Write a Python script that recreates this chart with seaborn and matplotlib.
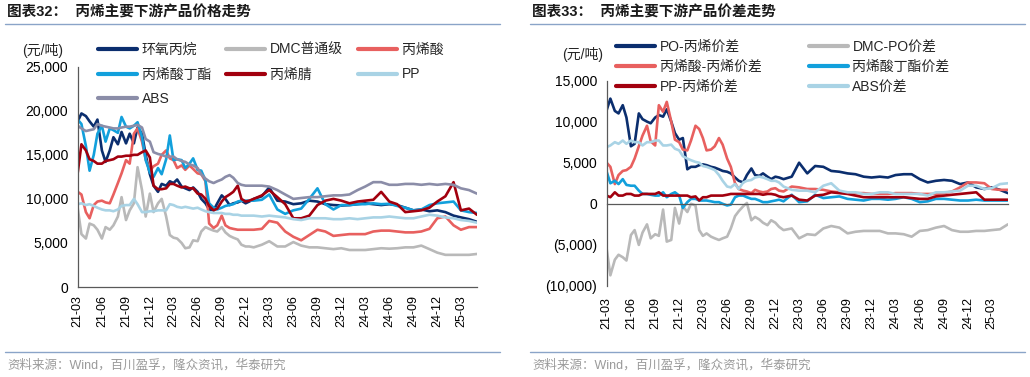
import numpy as np
import pandas as pd
import matplotlib
matplotlib.use("Agg")
import matplotlib.pyplot as plt
import matplotlib.dates as mdates
from matplotlib.ticker import FuncFormatter, MultipleLocator
from matplotlib.lines import Line2D
import seaborn as sns

# semi-monthly points to end of 2022, monthly afterwards
dates = list(pd.date_range("2021-03-01", periods=44, freq="SMS")) + \
    list(pd.date_range("2023-01-01", "2025-05-01", freq="MS"))

# ---- left chart: prices (元/吨) ----
price_names = ["环氧丙烷", "DMC普通级", "丙烯酸", "丙烯酸丁酯", "丙烯腈", "PP", "ABS"]
po = [18800, 19700, 19400, 18800, 18200, 19000, 15500, 14200, 15500, 17000, 16200, 17600, 16300, 17400, 16300,
      18100, 17400, 15000, 12800, 11500, 10800, 11700, 11500, 12000, 11800, 12200, 11400, 11200, 11000, 11300,
      10800, 10000, 9500, 8800, 8700, 9500, 10400, 10000, 9300, 9500, 9600, 9800, 9500, 9700,
      10000, 10300, 11300, 9800, 9700, 9400, 9500, 9800, 9700, 9400, 9300, 9250, 9300, 9400, 9500, 9400, 9300,
      9400, 9300, 9000, 8700, 8800, 8600, 8700, 8500, 8100, 7900, 7700, 7400]
dmc = [8900, 6000, 5500, 7200, 7000, 6500, 5500, 6800, 6500, 7000, 8000, 10200, 7600, 8700, 9500,
       13600, 11000, 8000, 10600, 8500, 9500, 10000, 8000, 5900, 5600, 5500, 5000, 4400, 4500, 5300,
       5200, 6300, 6800, 6600, 6400, 6300, 6800, 6200, 5800, 5600, 5400, 4800, 4600, 4600,
       4500, 4800, 5200, 4600, 4600, 5100, 4700, 4500, 4500, 4400, 4300, 4400, 4200, 4200, 4200, 4300, 4400,
       4350, 4400, 4500, 4500, 4700, 4300, 3900, 3650, 3650, 3650, 3650, 3750]
aa = [10800, 10500, 8500, 7800, 9300, 9700, 9800, 9600, 9500, 10500, 11800, 12900, 14400, 14000, 17400,
      18000, 16500, 14500, 13200, 13700, 14000, 15000, 15500, 14600, 14400, 13500, 13800, 13300, 13800, 13400,
      12900, 12800, 12000, 7200, 6700, 7000, 8100, 7000, 6700, 6600, 6500, 6500, 6500, 6500,
      6500, 6600, 7500, 7300, 6300, 5700, 5300, 5900, 6500, 6300, 5800, 5900, 6000, 6000, 6000, 6300, 6400,
      6400, 6300, 6200, 6200, 6300, 6600, 7800, 8000, 7000, 6500, 6800, 6800]
ba = [19000, 18500, 16000, 13200, 15000, 17400, 18300, 16500, 18000, 17800, 17500, 19300, 18200, 18000, 18300,
      18700, 17000, 14400, 13000, 12500, 13500, 12800, 14500, 17200, 14400, 14500, 14400, 13500, 14000, 14600,
      13300, 13200, 12100, 9500, 9000, 8800, 9000, 9200, 9300, 9400, 9700, 9800, 9800, 9800,
      9800, 9900, 10500, 8800, 8300, 8700, 8900, 10000, 11200, 9400, 8800, 9300, 9300, 9400, 9400, 9500, 9400,
      9450, 9200, 9000, 8700, 8800, 9300, 9500, 9600, 9700, 8700, 8500, 8400]
an = [13000, 16200, 15500, 14500, 14300, 14000, 14000, 14300, 14400, 14500, 14800, 14800, 14900, 14900, 15000,
      15000, 15300, 15500, 14700, 11500, 11100, 11100, 11200, 11700, 11700, 11500, 11300, 11400, 11200, 11200,
      10600, 10500, 10000, 9200, 8700, 8900, 9700, 10200, 10500, 10800, 11500, 10000, 9700, 9800,
      10000, 10400, 11000, 10200, 9400, 7800, 7800, 8100, 9300, 9800, 10000, 9800, 9500, 9700, 9800, 9900, 10800,
      9700, 9400, 8500, 8600, 8700, 9000, 9700, 10300, 11900, 8700, 8900, 8200]
pp = [9400, 9500, 9300, 9400, 9200, 9000, 8800, 8700, 8700, 8600, 8800, 9200, 9300, 9300, 10000,
      9400, 8500, 8500, 8600, 8600, 8700, 8700, 8700, 9400, 9300, 9100, 9000, 9100, 9000, 8900,
      9000, 8800, 8600, 8500, 8400, 8400, 8400, 8300, 8300, 8200, 8200, 8100, 8100, 8100,
      8100, 8000, 8100, 8000, 7900, 7700, 7600, 7800, 7800, 7800, 7700, 7700, 7800, 7700, 7800, 7900, 7900,
      8000, 7900, 7800, 7800, 8000, 8200, 8100, 7900, 7800, 7600, 7500, 7300]
abs_ = [18300, 18000, 17700, 17800, 17900, 18500, 18300, 18200, 18100, 18000, 18000, 18100, 18200, 18200, 18300,
        18400, 18100, 16800, 16500, 15300, 15100, 15000, 14800, 14800, 14800, 14500, 14300, 14200, 13900, 13800,
        13500, 12800, 12300, 12000, 11800, 12000, 12200, 12500, 12700, 12400, 11800, 11600, 11500, 11500,
        11500, 11500, 11400, 11000, 10500, 10000, 10100, 10200, 10200, 10300, 10400, 10400, 10500, 11000, 11400,
        11900, 11900, 11600, 11600, 11700, 11700, 11600, 11700, 11600, 11700, 11600, 11200, 11000, 10600]

# ---- right chart: spreads (元/吨) ----
spread_names = ["PO-丙烯价差", "DMC-PO价差", "丙烯酸-丙烯价差", "丙烯酸丁酯价差", "PP-丙烯价差", "ABS价差"]
po_sp = [11400, 12800, 11300, 11000, 12000, 10500, 7000, 7300, 11000, 10300, 10000, 9800, 10500, 10800, 10600,
         11500, 10000, 8600, 7800, 8000, 4200, 4500, 4500, 4700, 4800, 4700, 4500, 4400, 4200, 4000,
         3900, 3700, 3200, 2800, 2600, 3500, 4300, 3500, 3400, 3700, 3300, 3000, 3300, 3200,
         3000, 3300, 5000, 3700, 4600, 4500, 4000, 3900, 3700, 3600, 3300, 3200, 3300, 3200, 3500, 3600, 3600,
         3000, 2600, 2800, 2900, 2800, 2400, 2600, 2000, 1800, 2000, 1700, 1300]
dmc_sp = [-5500, -8700, -6800, -6200, -6500, -6900, -3800, -3200, -5000, -3500, -2500, -4200, -3700, -3900, -700,
          -4600, -4400, -500, -2400, -300, -1000, 0, -200, -3200, -3900, -3600, -4000, -4200, -4400, -4200,
          -4000, -3000, -1500, -900, -300, 100, -2000, -1600, -1900, -2300, -2600, -2000, -2300, -2800,
          -3200, -3000, -4200, -3700, -3800, -3000, -2700, -2900, -3600, -3400, -3300, -3300, -3300, -3600, -3600,
          -3700, -4000, -3300, -3200, -2900, -2700, -3200, -3400, -3400, -3300, -3300, -3200, -3100, -2500]
aa_sp = [5000, 4500, 2400, 3500, 4000, 4100, 4500, 5500, 7000, 8300, 9500, 7600, 7100, 12000, 11200,
         12400, 10000, 7800, 7500, 6600, 6500, 7700, 9500, 9100, 8000, 6500, 6600, 7000, 8000, 7200,
         5500, 4500, 2500, 1800, 1600, 1500, 1300, 1700, 1500, 1400, 1500, 1800, 1900, 1600,
         1500, 2100, 2000, 1800, 1800, 1700, 1500, 1400, 1400, 1300, 1300, 1200, 1200, 1200, 1300, 1300, 1300,
         1200, 1200, 1200, 1300, 1500, 2000, 2600, 2600, 2500, 1800, 1700, 1700]
ba_sp = [3900, 2500, 2800, 2400, 3000, 2300, 2200, 2200, 1600, 1200, 1200, 1100, 1000, 1000, 1400,
         800, 1200, 1400, 1000, -500, 200, 600, 600, 400, 400, 400, 300, 200, 200, 0,
         -200, -100, 800, 1000, 1000, 800, 600, 600, 400, 200, 200, 300, 400, 500,
         300, 1100, 200, 300, 1100, 700, 800, 900, 600, 500, 400, 600, 600, 500, 600, 800, 600,
         200, 300, 600, 600, 500, 400, 400, 500, 400, 400, 400, 400]
pp_sp = [1000, 800, 1400, 1000, 1000, 1200, 1200, 1000, 1000, 1200, 1200, 1200, 1200, 1400, 1000,
         1000, 1000, 1000, 1000, 1000, 1000, 800, 900, 400, 800, 800, 1000, 1000, 1000, 1000,
         1100, 1200, 1200, 1200, 1200, 1200, 1200, 1200, 1200, 1100, 1200, 1200, 1100, 900,
         800, 1000, 500, 400, 1000, 1100, 1400, 1300, 1200, 1000, 800, 800, 800, 800, 800, 800, 700,
         600, 600, 900, 1000, 1100, 1200, 1300, 1400, 500, 500, 500, 500]
abs_sp = [6900, 7100, 7500, 7300, 7700, 7300, 7700, 7500, 7500, 7100, 7500, 7500, 7700, 7700, 7100,
          7100, 7200, 6700, 6500, 5800, 5500, 5300, 5100, 5000, 4600, 4500, 4300, 4100, 3500, 2800,
          2100, 2000, 2400, 1800, 2600, 2800, 2900, 3200, 3300, 3200, 3000, 2800, 2800, 2600,
          2100, 1700, 1600, 1600, 1400, 2200, 2500, 1600, 1400, 1400, 1200, 1200, 1400, 1400, 1200,
          1200, 1200, 1200, 1000, 1400, 1400, 1500, 1600, 2200, 2200, 1800, 1900, 2400, 2500]

price_colors = ["#0b2e6e", "#b9b9b9", "#e8605f", "#12a0dc", "#a2000e", "#a9d3e5", "#8b8da8"]
spread_colors = ["#0b2e6e", "#b9b9b9", "#e8605f", "#12a0dc", "#a2000e", "#a9d3e5"]

price_df = pd.DataFrame(dict(zip(price_names, [po, dmc, aa, ba, an, pp, abs_])), index=dates)
spread_df = pd.DataFrame(dict(zip(spread_names, [po_sp, dmc_sp, aa_sp, ba_sp, pp_sp, abs_sp])), index=dates)

sns.set_style("white")
plt.rcParams["font.family"] = ["Liberation Sans", "Noto Sans CJK SC", "DejaVu Sans"]
plt.rcParams["axes.unicode_minus"] = False

fig = plt.figure(figsize=(10.30, 3.77), dpi=100)
ax1 = fig.add_axes([0.0755, 0.2387, 0.3875, 0.5843])
ax2 = fig.add_axes([0.589, 0.2414, 0.3895, 0.545])

axis_col = "#595959"
lw = 1.9


def draw(ax, df, names, colors):
    long = df.reset_index(names="date").melt(id_vars="date", var_name="series", value_name="value")
    sns.lineplot(data=long, x="date", y="value", hue="series", hue_order=names,
                 palette=colors, linewidth=lw, legend=False, ax=ax)
    ax.set_xlabel("")
    ax.set_ylabel("")
    for s in ["top", "right"]:
        ax.spines[s].set_visible(False)
    for s in ["left", "bottom"]:
        ax.spines[s].set_color(axis_col)
        ax.spines[s].set_linewidth(0.9)
    ax.set_xlim(pd.Timestamp("2021-03-01"), pd.Timestamp("2025-05-01"))
    ax.xaxis.set_major_locator(mdates.MonthLocator(bymonth=[3, 6, 9, 12]))
    ax.xaxis.set_major_formatter(mdates.DateFormatter("%y-%m"))
    ax.tick_params(axis="x", rotation=90, labelsize=9, direction="out", length=4,
                   width=0.9, color=axis_col, pad=2, labelcolor="#000000")
    ax.tick_params(axis="y", labelsize=10, direction="out", length=4, width=0.9,
                   color=axis_col, pad=3, labelcolor="#000000")
    ax.grid(False)


draw(ax1, price_df, price_names, price_colors)
ax1.set_ylim(0, 25000)
ax1.yaxis.set_major_locator(MultipleLocator(5000))
ax1.yaxis.set_major_formatter(FuncFormatter(lambda v, p: f"{v:,.0f}"))

draw(ax2, spread_df, spread_names, spread_colors)
ax2.set_ylim(-10000, 15000)
ax2.yaxis.set_major_locator(MultipleLocator(5000))
ax2.yaxis.set_major_formatter(FuncFormatter(lambda v, p: f"({abs(v):,.0f})" if v < 0 else f"{v:,.0f}"))
ax2.spines["bottom"].set_position(("data", 0))
ax2.tick_params(axis="x", pad=63)

# legends
def legend(ax, names, colors, order, ncol, anchor, labelspacing, colspacing):
    handles = [Line2D([], [], color=colors[i], lw=3) for i in order]
    labels = [names[i] for i in order]
    ax.legend(handles, labels, ncol=ncol, loc="upper left", bbox_to_anchor=anchor,
              bbox_transform=fig.transFigure, frameon=False, fontsize=10,
              handlelength=2.8, handletextpad=0.35, borderpad=0, borderaxespad=0,
              labelspacing=labelspacing, columnspacing=colspacing)

legend(ax1, price_names, price_colors, [0, 3, 6, 1, 4, 2, 5], 3, (0.095, 0.887), 0.78, 1.1)
legend(ax2, spread_names, spread_colors, [0, 2, 4, 1, 3, 5], 2, (0.598, 0.893), 0.42, 3.4)

# unit labels
fig.text(0.041, 1 - 50 / 377, "(元/吨)", fontsize=10, ha="center", va="center")
fig.text(0.566, 1 - 54 / 377, "(元/吨)", fontsize=10, ha="center", va="center")

# titles, rules and source
rule_col = "#8aa4c8"
for x0, x1, title in [(5, 500, "图表32：  丙烯主要下游产品价格走势"),
                      (530, 1025, "图表33：  丙烯主要下游产品价差走势")]:
    fig.text((x0 + 2) / 1030, 1 - 12 / 377, title, fontsize=10.5, fontweight="bold",
             ha="left", va="center", color="#1a1a1a")
    fig.add_artist(Line2D([x0 / 1030, x1 / 1030], [1 - 23.5 / 377] * 2, color=rule_col, lw=1.0))
    fig.add_artist(Line2D([x0 / 1030, x1 / 1030], [1 - 352 / 377] * 2, color=rule_col, lw=1.0))
    fig.text((x0 + 2) / 1030, 1 - 365 / 377, "资料来源：Wind，百川盈孚，隆众资讯，华泰研究",
             fontsize=9, ha="left", va="center", color="#9a9a9a")

fig.savefig("out.png", dpi=100)
plt.close(fig)
